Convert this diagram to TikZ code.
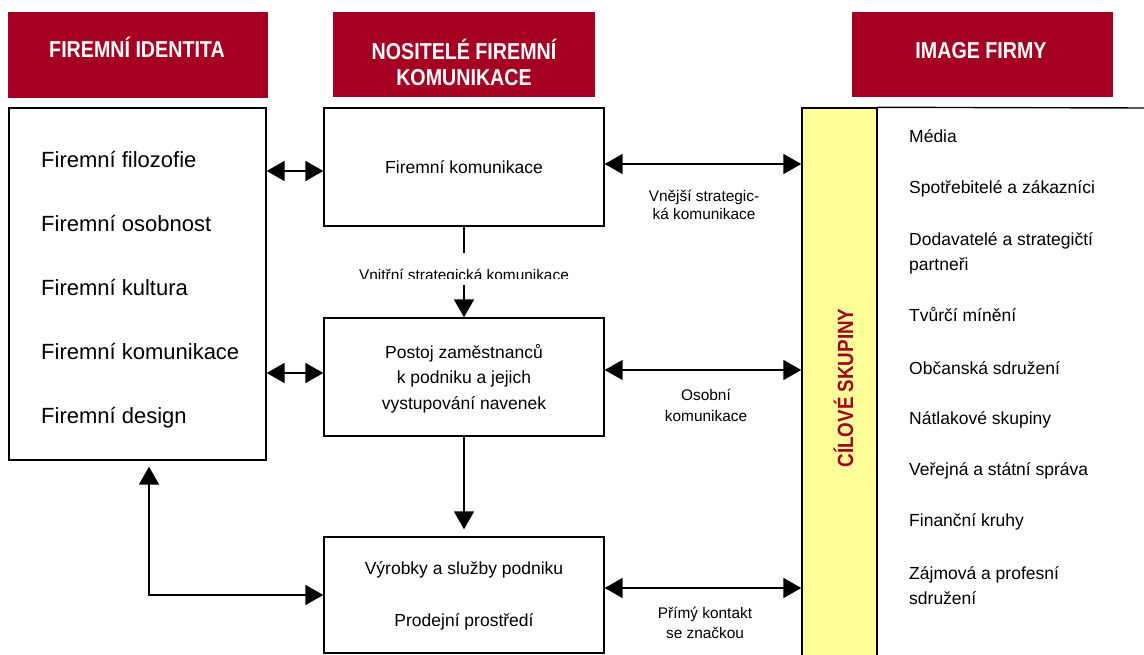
\documentclass[tikz,border=0pt]{standalone}
\usepackage{fontspec}
\setmainfont{Liberation Sans}
\newfontfamily\hdfont[FakeStretch=0.855]{Liberation Sans}
\usetikzlibrary{arrows.meta}
\definecolor{hdred}{HTML}{A50021}
\definecolor{ylw}{HTML}{FFFF99}
\begin{document}
\begin{tikzpicture}[x=1pt,y=-1pt,
  hdbox/.style={fill=hdred, draw=none, inner sep=0pt},
  hdtext/.style={text=white, font=\hdfont\bfseries\fontsize{23}{26}\selectfont, inner sep=0pt, anchor=base},
  box/.style={draw=black, line width=1.4pt, fill=white, inner sep=0pt},
  big/.style={font=\fontsize{22}{26}\selectfont, inner sep=0pt, anchor=base west},
  txt/.style={font=\fontsize{17.5}{21}\selectfont, inner sep=0pt, anchor=base},
  item/.style={font=\fontsize{17.5}{21}\selectfont, inner sep=0pt, anchor=base west},
  lbl/.style={font=\fontsize{15.4}{18}\selectfont, inner sep=0pt, anchor=base},
  Bigtri/.tip={Triangle[length=18pt,width=20pt]},
  link/.style={line width=1.7pt},
  one/.style={link, -{Bigtri}},
  both/.style={link, {Bigtri}-{Bigtri}}
]
\useasboundingbox (0,0) rectangle (1144,655);

% column headers
\node[hdbox, minimum width=260pt, minimum height=86pt] (h1) at (138,55) {};
\node[hdbox, minimum width=262pt, minimum height=85pt] (h2) at (464,54.5) {};
\node[hdbox, minimum width=261pt, minimum height=85pt] (h3) at (982.5,54.5) {};
\node[hdtext] (h1t) at (137,58) {FIREMNÍ IDENTITA};
\node[hdtext] (h2a) at (464,60) {NOSITELÉ FIREMNÍ};
\node[hdtext] (h2b) at (464,86) {KOMUNIKACE};
\node[hdtext] (h3t) at (981,59) {IMAGE FIRMY};

% corporate identity box
\node[box, minimum width=257pt, minimum height=352pt] (L) at (137.5,284) {};
\node[big] (l1) at (41,168) {Firemní filozofie};
\node[big] (l2) at (41,231.8) {Firemní osobnost};
\node[big] (l3) at (41,295.6) {Firemní kultura};
\node[big] (l4) at (41,359.4) {Firemní komunikace};
\node[big] (l5) at (41,423.2) {Firemní design};

% carriers of communication
\node[box, minimum width=280pt, minimum height=118pt] (b1) at (464,167) {};
\node[txt] (b1t) at (464,174) {Firemní komunikace};
\node[box, minimum width=280pt, minimum height=118pt] (b2) at (464,377) {};
\node[txt] (b2a) at (464,358) {Postoj zaměstnanců};
\node[txt] (b2b) at (464,383.5) {k podniku a jejich};
\node[txt] (b2c) at (464,409) {vystupování navenek};
\node[box, minimum width=280pt, minimum height=116pt] (b3) at (464,595) {};
\node[txt] (b3a) at (464,574) {Výrobky a služby podniku};
\node[txt] (b3b) at (464,626) {Prodejní prostředí};

% target groups column
\node[box, fill=ylw, minimum width=75pt, minimum height=562pt] (Y) at (839.5,389) {};
\node[rotate=90, anchor=base, inner sep=0pt, text=hdred,
      font=\hdfont\bfseries\fontsize{22}{26}\selectfont] (yt) at (853,388) {CÍLOVÉ SKUPINY};
\coordinate (gr) at (1146,108);
\draw[line width=1.4pt] (Y.north east) -- (gr);

\node[item] (g1) at (909,143) {Média};
\node[item] (g2) at (909,194) {Spotřebitelé a zákazníci};
\node[item] (g3a) at (909,246) {Dodavatelé a strategičtí};
\node[item] (g3b) at (909,271) {partneři};
\node[item] (g4) at (909,322) {Tvůrčí mínění};
\node[item] (g5) at (909,374) {Občanská sdružení};
\node[item] (g6) at (909,424) {Nátlakové skupiny};
\node[item] (g7) at (909,475) {Veřejná a státní správa};
\node[item] (g8) at (909,526) {Finanční kruhy};
\node[item] (g9a) at (909,579) {Zájmová a profesní};
\node[item] (g9b) at (909,604) {sdružení};

% connector labels
\node[lbl] (e1a) at (704,202) {Vnější strategic-};
\node[lbl] (e1b) at (704,220) {ká komunikace};
\node[lbl] (e2a) at (706,400) {Osobní};
\node[lbl] (e2b) at (706,421) {komunikace};
\node[lbl] (e3a) at (705,618) {Přímý kontakt};
\node[lbl] (e3b) at (705,638) {se značkou};

% gap in the internal communication connector
\node[inner sep=0pt, minimum width=0pt, minimum height=32pt] (vg) at (464,269) {};
\begin{scope}
  \clip (330,250) rectangle (600,279);
  \node[lbl] (vl) at (464,281) {Vnitřní strategická komunikace};
\end{scope}

% connectors
\coordinate (y1) at (0,171);
\coordinate (y2) at (0,164);
\coordinate (y3) at (0,373);
\coordinate (y4) at (0,370);
\coordinate (y5) at (0,588);
\coordinate (kx) at (149,0);
\draw[both] (L.east |- y1) -- (b1.west |- y1);
\draw[both] (b1.east |- y2) -- (Y.west |- y2);
\draw[both] (L.east |- y3) -- (b2.west |- y3);
\draw[both] (b2.east |- y4) -- (Y.west |- y4);
\draw[both] (b3.east |- y5) -- (Y.west |- y5);
\draw[link] (b1.south) -- (vg.north);
\draw[one] (vg.south) -- (b2.north);
\draw[one, shorten >=7pt] (b2.south) -- (b3.north);
\draw[both, shorten <=6pt] (L.south -| kx) |- (b3.west);
\end{tikzpicture}
\end{document}
